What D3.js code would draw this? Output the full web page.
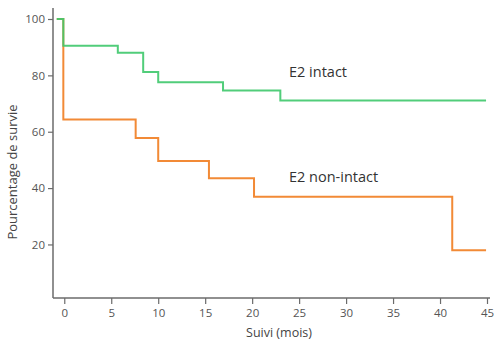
<!DOCTYPE html>
<html>
<head>
<meta charset="utf-8">
<script src="https://cdn.jsdelivr.net/npm/d3@7"></script>
<style>
  body { margin: 0; background: #fff; }
  text { font-family: "Open Sans", "Noto Sans", sans-serif; }
</style>
</head>
<body>
<div id="chart"></div>
<script>
// Kaplan-Meier steps: [mois, % survie]
const intactSteps = [[-0.8, 100], [-0.1, 90.5], [5.7, 88], [8.4, 81.2], [10, 77.6], [16.9, 74.6], [23, 71.1], [44.9, 71.1]];
const nonIntactSteps = [[-0.8, 100], [-0.1, 64.3], [7.6, 57.8], [10, 49.6], [15.4, 43.5], [20.2, 36.9], [41.3, 17.9], [44.9, 17.9]];
const xTicks = [0, 5, 10, 15, 20, 25, 30, 35, 40, 45];
const yTicks = [20, 40, 60, 80, 100];
const seriesNames = ["E2 intact", "E2 non-intact"];

const width = 494;
const height = 345;

const xScale = d3.scaleLinear()
    .domain([-1.2, 45])
    .range([53, 487]);

const yScale = d3.scaleLinear()
    .domain([1, 100])
    .range([298, 19]);

const svg = d3.select("#chart")
    .append("svg")
    .attr("width", width)
    .attr("height", height);

const line = d3.line()
    .curve(d3.curveStepAfter)
    .x(d => xScale(d[0]))
    .y(d => yScale(d[1]));

// Lines
svg.append("path")
    .datum(nonIntactSteps)
    .attr("fill", "none")
    .attr("stroke", "#f28a36")
    .attr("stroke-width", 2)
    .attr("d", line);

svg.append("path")
    .datum(intactSteps)
    .attr("fill", "none")
    .attr("stroke", "#3ec86c")
    .attr("stroke-width", 2)
    .attr("opacity", 0.9)
    .attr("d", line);

// X axis
const xAxis = svg.append("g")
    .attr("transform", `translate(0, ${yScale(1)})`)
    .call(d3.axisBottom(xScale).tickValues(xTicks).tickSize(6).tickSizeOuter(0));
xAxis.select(".domain")
    .attr("stroke", "#6b6b6b")
    .attr("stroke-width", 1.5)
    .attr("d", `M${xScale(-1.2)},0H490`);
xAxis.selectAll(".tick line").attr("stroke", "#6b6b6b").attr("stroke-width", 1.2);
xAxis.selectAll("text")
    .attr("fill", "#555")
    .attr("dy", "0.9em")
    .style("font-size", "11.5px");

// Y axis
const yAxis = svg.append("g")
    .attr("transform", `translate(${xScale(-1.2)}, 0)`)
    .call(d3.axisLeft(yScale).tickValues(yTicks).tickSize(5).tickSizeOuter(0));
yAxis.select(".domain")
    .attr("stroke", "#6b6b6b")
    .attr("stroke-width", 1.5)
    .attr("d", `M0,8V${yScale(1)}`);
yAxis.selectAll(".tick line").attr("stroke", "#6b6b6b").attr("stroke-width", 1.2);
yAxis.selectAll("text")
    .attr("fill", "#555")
    .style("font-size", "11.5px");

// Axis titles
svg.append("text")
    .attr("x", 279)
    .attr("y", 337)
    .attr("text-anchor", "middle")
    .attr("fill", "#444")
    .style("font-size", "12.5px")
    .text("Suivi (mois)");

svg.append("text")
    .attr("transform", "translate(17, 172) rotate(-90)")
    .attr("text-anchor", "middle")
    .attr("fill", "#444")
    .style("font-size", "13px")
    .text("Pourcentage de survie");

// Series labels
svg.append("text")
    .attr("x", 289)
    .attr("y", 77)
    .attr("fill", "#333")
    .style("font-size", "14.5px")
    .text(seriesNames[0]);

svg.append("text")
    .attr("x", 289)
    .attr("y", 182)
    .attr("fill", "#333")
    .style("font-size", "14.5px")
    .text(seriesNames[1]);
</script>
</body>
</html>
